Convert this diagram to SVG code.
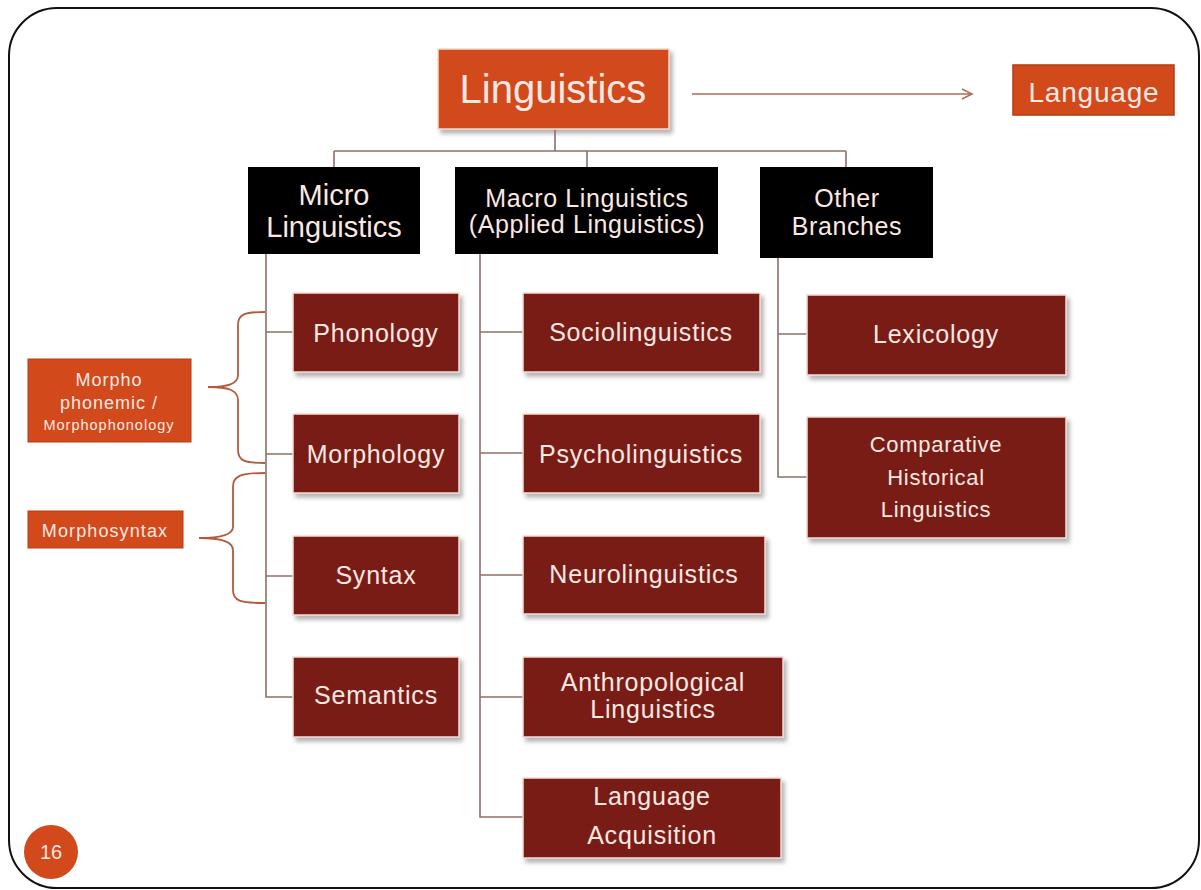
<svg xmlns="http://www.w3.org/2000/svg" width="1201" height="890" viewBox="0 0 1201 890">
<defs>
<filter id="sh" x="-10%" y="-10%" width="125%" height="135%">
<feDropShadow dx="3" dy="4" stdDeviation="2" flood-color="#777" flood-opacity="0.55"/>
</filter>
<marker id="arr" markerWidth="14" markerHeight="14" refX="12" refY="7" orient="auto" markerUnits="userSpaceOnUse">
<path d="M2,2 L12,7 L2,12" fill="none" stroke="#b06a55" stroke-width="1.5"/>
</marker>
<style>
text{font-family:"Liberation Sans",Arial,sans-serif;fill:#fbe8e2;text-anchor:middle}
.org{fill:#d2491b;stroke:#f6d9cc;stroke-width:1.5}
.blk{fill:#000}
.red{fill:#7a1f16;stroke:#f3dcd6;stroke-width:1.5;filter:url(#sh)}
.sub{font-size:25px;letter-spacing:0.8px}
.hd{font-size:25px;letter-spacing:0.6px}
.ln{fill:none;stroke:#8d7068;stroke-width:1.6}
.br{fill:none;stroke:#b35a3c;stroke-width:1.8}
</style>
</defs>
<rect x="9" y="8" width="1190" height="880" rx="48" ry="48" fill="#fff" stroke="#111" stroke-width="2"/>

<g id="connectors">
<path class="ln" d="M555,129 V151 M334,151 H846 M334,151 V167 M587,151 V167 M846,151 V167"/>
<path d="M692,94 H972" fill="none" stroke="#b06a55" stroke-width="1.6" marker-end="url(#arr)"/>
<path class="ln" d="M266,254 V697 H293 M266,332 H293 M266,454 H293 M266,576 H293"/>
<path class="ln" d="M480,254 V817 H523 M480,332 H523 M480,453 H523 M480,575 H523 M480,697 H523"/>
<path class="ln" d="M778,258 V477 H807 M778,334 H807"/>
<path class="br" d="M265,312 C245,312 238,314 238,325 V375 C238,384 228,387 208,387 C228,387 238,390 238,400 V450 C238,461 245,463 265,463"/>
<path class="br" d="M265,473 C240,473 233,476 233,487 V527 C233,535 220,538 199,538 C220,538 233,541 233,550 V590 C233,601 240,603 265,603"/>
</g>

<g id="linguistics"><rect class="org" x="438" y="49" width="231" height="80" filter="url(#sh)"/><text x="553" y="103" font-size="40">Linguistics</text></g>
<g id="language"><rect x="1013" y="65" width="161" height="50" fill="#d2491b" stroke="#b33d14" stroke-width="1.5"/><text x="1094" y="102" font-size="28" letter-spacing="0.8">Language</text></g>

<g id="micro"><rect class="blk" x="248" y="167" width="172" height="87"/><text x="334" y="205" font-size="29">Micro</text><text x="334" y="237" font-size="29">Linguistics</text></g>
<g id="macro"><rect class="blk" x="455" y="167" width="263" height="87"/><text class="hd" x="587" y="207">Macro Linguistics</text><text class="hd" x="587" y="233">(Applied Linguistics)</text></g>
<g id="other"><rect class="blk" x="760" y="167" width="173" height="91"/><text class="hd" x="847" y="207">Other</text><text class="hd" x="847" y="235">Branches</text></g>

<g id="phonology"><rect class="red" x="293" y="293" width="166" height="79"/><text class="sub" x="376" y="342">Phonology</text></g>
<g id="morphology"><rect class="red" x="293" y="414" width="166" height="79"/><text class="sub" x="376" y="463">Morphology</text></g>
<g id="syntax"><rect class="red" x="293" y="536" width="166" height="79"/><text class="sub" x="376" y="584">Syntax</text></g>
<g id="semantics"><rect class="red" x="293" y="657" width="166" height="80"/><text class="sub" x="376" y="704">Semantics</text></g>

<g id="sociolinguistics"><rect class="red" x="523" y="293" width="237" height="79"/><text class="sub" x="641" y="341">Sociolinguistics</text></g>
<g id="psycholinguistics"><rect class="red" x="523" y="414" width="237" height="79"/><text class="sub" x="641" y="463">Psycholinguistics</text></g>
<g id="neurolinguistics"><rect class="red" x="523" y="536" width="242" height="78"/><text class="sub" x="644" y="583">Neurolinguistics</text></g>
<g id="anthropological"><rect class="red" x="523" y="657" width="260" height="80"/><text class="sub" x="653" y="691">Anthropological</text><text class="sub" x="653" y="718">Linguistics</text></g>
<g id="acquisition"><rect class="red" x="523" y="778" width="258" height="80"/><text class="sub" x="652" y="805">Language</text><text class="sub" x="652" y="844">Acquisition</text></g>

<g id="lexicology"><rect class="red" x="807" y="295" width="259" height="80"/><text class="sub" x="936" y="343">Lexicology</text></g>
<g id="comparative"><rect class="red" x="807" y="417" width="259" height="121"/><text x="936" y="452" font-size="22" letter-spacing="0.7">Comparative</text><text x="936" y="485" font-size="22" letter-spacing="0.7">Historical</text><text x="936" y="517" font-size="22" letter-spacing="0.7">Linguistics</text></g>

<g id="morphophonemic"><rect x="28" y="359" width="163" height="83" fill="#d2491b" stroke="#b33d14" stroke-width="1"/><text x="109" y="386" font-size="18" letter-spacing="1">Morpho</text><text x="109" y="409" font-size="18" letter-spacing="1">phonemic /</text><text x="109" y="430" font-size="14.5" letter-spacing="1">Morphophonology</text></g>
<g id="morphosyntax"><rect x="28" y="511" width="155" height="37" fill="#d2491b" stroke="#b33d14" stroke-width="1"/><text x="105" y="537" font-size="18" letter-spacing="1.1">Morphosyntax</text></g>

<g id="page"><circle cx="51" cy="852" r="27" fill="#d2491b"/><text x="51" y="859" font-size="20">16</text></g>
</svg>
